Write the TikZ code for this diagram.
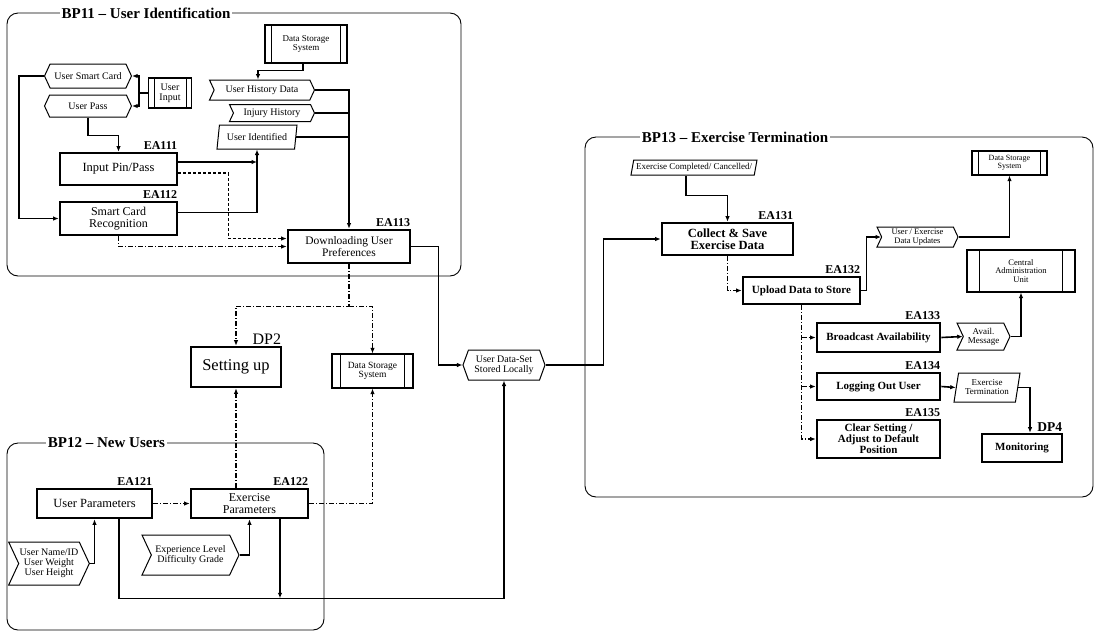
\documentclass[tikz,border=0pt]{standalone}
\usepackage{fontspec}
\setmainfont{Liberation Serif}
\usetikzlibrary{arrows.meta,shapes.geometric,shapes.symbols}
\newcommand\fs[1]{\fontsize{#1}{#1}\selectfont}
% side bars of a data store symbol
\newcommand\storebars[2]{\draw[line width=0.9pt] ([xshift=#2]#1.north west) -- ([xshift=#2]#1.south west) ([xshift=-#2]#1.north east) -- ([xshift=-#2]#1.south east);}
\begin{document}
\begin{tikzpicture}[x=1pt,y=-1pt,
  wh/.style 2 args={minimum width=#1, minimum height=#2},
  bpframe/.style={draw, line width=0.9pt, rounded corners=11pt, inner sep=0pt},
  frametitle/.style={fill=white, inner sep=2pt, font=\bfseries\fs{15}},
  proc/.style={draw, line width=2.6pt, inner sep=1pt, align=center, font=\fs{12.5}},
  procb/.style={proc, font=\bfseries\fs{11}},
  ea/.style={anchor=south east, inner sep=1pt, font=\bfseries\fs{12}},
  store/.style={draw, line width=1.1pt, inner sep=1pt, align=center, font=\fs{9}},
  sig/.style={signal, signal from=west, signal to=east, signal pointer angle=130, draw, line width=1pt, inner sep=1pt, align=center, font=\fs{10}},
  hexa/.style={sig, signal from=nowhere, signal to=west and east},
  para/.style={trapezium, trapezium left angle=75, trapezium right angle=105, trapezium stretches body, draw, line width=1pt, inner sep=1pt, align=center, font=\fs{10}},
  conn/.style={line width=1.6pt, -{Latex[length=5.5pt,width=4.5pt]}},
  plainline/.style={line width=1.6pt},
  dsh/.style={line width=1.2pt, dash pattern=on 3pt off 2pt, -{Latex[length=5.5pt,width=4.5pt]}},
  dd/.style={line width=1.2pt, dash pattern=on 5pt off 2pt on 1pt off 2pt, -{Latex[length=5.5pt,width=4.5pt]}},
]
\useasboundingbox (0,0) rectangle (1096,633);

% ---------------- BP11 ----------------
\node[bpframe, wh={454}{263}] (bp11) at (234,144.5) {};
\node[frametitle] (t11) at (146,13) {BP11 -- User Identification};

\node[store, wh={82}{38}] (ds1) at (306,44) {Data Storage\\System}; \storebars{ds1}{7pt}
\node[hexa, wh={87}{24}] (usc) at (88,76) {User Smart Card};
\node[hexa, wh={87}{22}] (upass) at (88,106) {User Pass};
\node[store, wh={43}{30}, font=\fs{10}] (uin) at (170,93) {User\\Input}; \storebars{uin}{6pt}
\node[sig, wh={105}{20}] (uhd) at (262,90) {User History Data};
\node[sig, wh={85}{17}] (ih) at (272,113) {Injury History};
\node[para, wh={80}{24}] (uid) at (257,137) {User Identified};
\node[proc, wh={117}{32}] (pin) at (118.5,169) {Input Pin/Pass};
\node[proc, wh={117}{33}, font=\fs{12}] (scr) at (118.5,218.5) {Smart Card\\Recognition};
\node[proc, wh={122}{33}, font=\fs{11.5}] (dl) at (349,246.5) {Downloading User\\Preferences};
\node[ea] (ea111) at ([yshift=1pt]pin.north east) {EA111};
\node[ea] (ea112) at ([yshift=1pt]scr.north east) {EA112};
\node[ea] (ea113) at ([yshift=1pt]dl.north east) {EA113};

\draw[conn] ([xshift=-3pt]ds1.south) -- ++(0,7) -| ([xshift=-4pt]uhd.north);
\draw[plainline] (uin.west) -- ++(-9,0) coordinate (uj);
\draw[conn] (uj) |- (usc.east);
\draw[conn] (uj) |- (upass.east);
\draw[conn] (upass.south) -- ++(0,18) -| (pin.north);
\draw[conn] (usc.west) -- ++(-25,0) |- (scr.west);
\draw[conn] ([yshift=7pt]pin.east) -- ([yshift=7pt]pin.east -| uid.south);
\draw[conn] ([yshift=6pt]scr.east) -| (uid.south);
\draw[conn] (uhd.east) -| (dl.north);
\draw[plainline] (ih.east) -- (ih.east -| dl.north);
\draw[plainline] (uid.east) -- (uid.east -| dl.north);
\draw[dsh] ([yshift=-4pt]pin.east) -- ++(50,0) |- ([yshift=8pt]dl.west);
\draw[dd] (scr.south) |- (dl.west);

% ---------------- shared stores ----------------
\node[proc, wh={90}{40}, font=\fs{16.5}] (setup) at (236,367) {Setting up};
\node[anchor=south east, inner sep=1pt, font=\fs{16}] (dp2) at (setup.north east) {DP2};
\node[store, wh={81}{34}, font=\fs{9.5}] (ds2) at (372.5,371) {Data Storage\\System}; \storebars{ds2}{9pt}
\node[hexa, wh={82}{30}, signal pointer angle=140] (uds) at (504,365) {User Data-Set\\Stored Locally};

\draw[conn] (dl.east) -- ++(27,0) |- (uds.west);
\draw[dd] (dl.south) -- ++(0,42) coordinate (dj) -| (setup.north);
\draw[dd] (dj) -| (ds2.north);

% ---------------- BP12 ----------------
\node[bpframe, wh={317}{187}] (bp12) at (165.5,536.5) {};
\node[frametitle] (t12) at (106.5,443) {BP12 -- New Users};
\node[proc, wh={115}{29}] (up) at (94.5,503.5) {User Parameters};
\node[proc, wh={117}{29}, font=\fs{12}] (ep) at (249.5,503.5) {Exercise\\Parameters};
\node[ea] (ea121) at ([yshift=1pt]up.north east) {EA121};
\node[ea] (ea122) at ([yshift=1pt]ep.north east) {EA122};
\node[sig, wh={78}{43}] (unid) at (49,563.5) {User Name/ID\\User Weight\\User Height};
\node[sig, wh={97}{40}] (eld) at (190.5,555) {Experience Level\\Difficulty Grade};

\draw[dd] (up.east) -- (ep.west);
\draw[dd] (setup.south |- ep.north) -- (setup.south);
\draw[dd] (ep.east) -| (ds2.south);
\draw[conn] (unid.east) -| (up.south);
\draw[conn] (eld.east) -| (ep.south);
\draw[conn] ([xshift=24.5pt]up.south) -- ++(0,79) -| (uds.south);
\draw[conn] ([xshift=30.5pt]ep.south) -- ++(0,79);

% ---------------- BP13 ----------------
\node[bpframe, wh={508}{360}] (bp13) at (839,317) {};
\node[frametitle] (t13) at (735,137) {BP13 -- Exercise Termination};
\node[para, wh={126}{15}, font=\fs{9}] (ecc) at (694,167.5) {Exercise Completed/ Cancelled/};
\node[proc, wh={131}{32}, font=\bfseries\fs{12.5}] (cs) at (727.5,239) {Collect \& Save\\Exercise Data};
\node[procb, wh={117}{27}] (upl) at (801.5,290.5) {Upload Data to Store};
\node[sig, wh={81}{20}, font=\fs{8.5}] (ued) at (917.5,237) {User / Exercise\\Data Updates};
\node[store, wh={75}{24}, font=\fs{8}] (ds3) at (1009.5,163) {Data Storage\\System}; \storebars{ds3}{7pt}
\node[store, wh={108}{42}, font=\fs{8.5}] (cau) at (1021,271) {Central\\Administration\\Unit}; \storebars{cau}{13pt}
\node[procb, wh={123}{29}] (ba) at (878.5,337.5) {Broadcast Availability};
\node[procb, wh={123}{27}] (lo) at (878.5,386.5) {Logging Out User};
\node[procb, wh={123}{38}] (cl) at (878.5,439) {Clear Setting /\\Adjust to Default\\Position};
\node[sig, wh={53}{27}, font=\fs{9}] (am) at (983.5,336.5) {Avail.\\Message};
\node[para, wh={66}{29}, font=\fs{9}] (et) at (987,387.5) {Exercise\\Termination};
\node[procb, wh={80}{28}] (mon) at (1022,448) {Monitoring};
\node[anchor=south east, inner sep=1pt, font=\bfseries\fs{13.5}] (dp4) at (mon.north east) {DP4};
\node[ea] (ea131) at ([yshift=1pt]cs.north east) {EA131};
\node[ea] (ea132) at ([yshift=1pt]upl.north east) {EA132};
\node[ea] (ea133) at ([yshift=1pt]ba.north east) {EA133};
\node[ea] (ea134) at ([yshift=1pt]lo.north east) {EA134};
\node[ea] (ea135) at ([yshift=1pt]cl.north east) {EA135};

\draw[conn] ([xshift=-8pt]ecc.south) -- ++(0,20) -| (cs.north);
\draw[conn] (uds.east) -- ++(58,0) |- (cs.west);
\draw[dd] (cs.south) |- (upl.west);
\draw[conn] (upl.east) -- ++(5,0) |- (ued.west);
\draw[conn] (ued.east) -| (ds3.south);
\draw[dd] (upl.south) |- (cl.west);
\draw[dd] (upl.south |- ba.west) -- (ba.west);
\draw[dd] (upl.south |- lo.west) -- (lo.west);
\draw[conn] (ba.east) -- (am.west);
\draw[conn] (am.east) -| (cau.south);
\draw[conn] (lo.east) -- (et.west);
\draw[conn] (et.east) -| ([xshift=8pt]mon.north);
\end{tikzpicture}
\end{document}
